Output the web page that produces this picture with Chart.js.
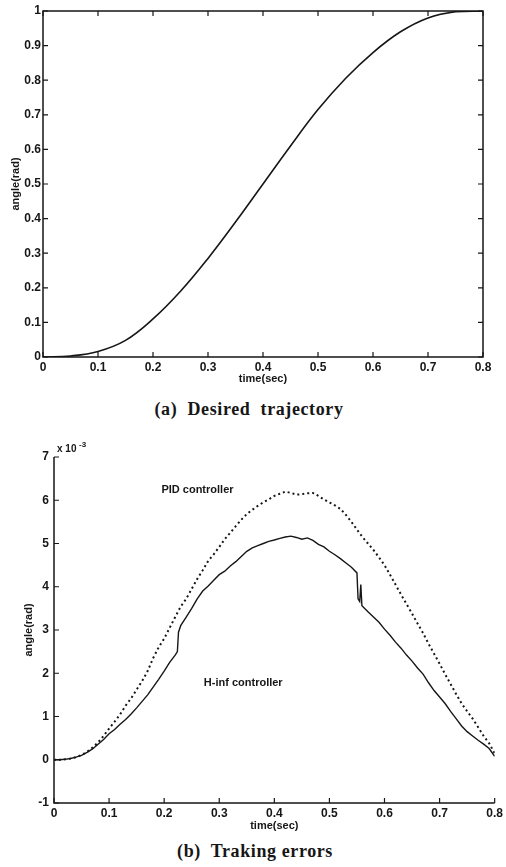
<!DOCTYPE html>
<html>
<head>
<meta charset="utf-8">
<script src="https://cdn.jsdelivr.net/npm/chart.js@4.4.1/dist/chart.umd.min.js"></script>
<style>
  body { margin: 0; background: #fff; width: 506px; height: 867px; position: relative; overflow: hidden; }
  #wrapA { position: absolute; left: 0; top: 0; width: 506px; height: 395px; }
  #wrapB { position: absolute; left: 0; top: 420px; width: 506px; height: 420px; }
  .caption { position: absolute; font-family: 'Liberation Serif', 'DejaVu Serif', serif; font-size: 18px; font-weight: bold; letter-spacing: 0.6px; color: #161616; white-space: nowrap; transform: translateX(-50%); line-height: 22px; }
</style>
</head>
<body>
<div id="wrapA"><canvas id="chartA"></canvas></div>
<div class="caption" style="left:249px; top:398px">(a)&nbsp; Desired&nbsp; trajectory</div>
<div id="wrapB"><canvas id="chartB"></canvas></div>
<div class="caption" style="left:255px; top:840px">(b)&nbsp; Traking errors</div>
<script>
// (a) desired trajectory, angle in rad
const trajTime  = [0, 0.05, 0.1, 0.15, 0.2, 0.25, 0.3, 0.35, 0.4, 0.45, 0.5, 0.55, 0.6, 0.65, 0.7, 0.75, 0.8];
const trajAngle = [0, 0.003, 0.016, 0.048, 0.11, 0.19, 0.285, 0.39, 0.5, 0.61, 0.715, 0.805, 0.88, 0.94, 0.98, 0.998, 1.0];

// (b) tracking errors, in units of 1e-3 rad
const pidTime = [0, 0.01, 0.02, 0.03, 0.04, 0.05, 0.06, 0.07, 0.08, 0.09,
  0.1, 0.11, 0.12, 0.13, 0.14, 0.15, 0.16, 0.17, 0.18, 0.19,
  0.2, 0.21, 0.22, 0.23, 0.24, 0.25, 0.26, 0.27, 0.28, 0.29,
  0.3, 0.31, 0.32, 0.33, 0.34, 0.35, 0.36, 0.37, 0.38, 0.39,
  0.4, 0.41, 0.42, 0.43, 0.44, 0.45, 0.46, 0.47, 0.48, 0.49,
  0.5, 0.51, 0.52, 0.53, 0.54, 0.55, 0.56, 0.57, 0.58, 0.59,
  0.6, 0.61, 0.62, 0.63, 0.64, 0.65, 0.66, 0.67, 0.68, 0.69,
  0.7, 0.71, 0.72, 0.73, 0.74, 0.75, 0.76, 0.77, 0.78, 0.79, 0.8];
const pidErr = [0, 0, 0.01, 0.03, 0.06, 0.11, 0.18, 0.28, 0.4, 0.55,
  0.72, 0.88, 1.05, 1.25, 1.42, 1.62, 1.82, 2.05, 2.35, 2.6,
  2.8, 3.05, 3.3, 3.54, 3.72, 3.95, 4.18, 4.38, 4.6, 4.75,
  4.92, 5.1, 5.25, 5.4, 5.55, 5.68, 5.78, 5.87, 5.95, 6.02,
  6.1, 6.15, 6.2, 6.17, 6.13, 6.14, 6.16, 6.17, 6.1, 6.02,
  5.95, 5.88, 5.8, 5.66, 5.5, 5.32, 5.15, 5.0, 4.85, 4.68,
  4.5, 4.28, 4.05, 3.82, 3.6, 3.38, 3.15, 2.93, 2.68, 2.45,
  2.22, 1.98, 1.75, 1.52, 1.3, 1.12, 0.95, 0.75, 0.55, 0.38, 0.15];

const hinfTime = [0, 0.01, 0.02, 0.03, 0.04, 0.05, 0.06, 0.07, 0.08, 0.09,
  0.1, 0.11, 0.12, 0.13, 0.14, 0.15, 0.16, 0.17, 0.18, 0.19,
  0.2, 0.21, 0.22, 0.224, 0.226, 0.23, 0.24, 0.25, 0.26, 0.27, 0.28, 0.29,
  0.3, 0.31, 0.32, 0.33, 0.34, 0.35, 0.36, 0.37, 0.38, 0.39,
  0.4, 0.41, 0.42, 0.43, 0.44, 0.45, 0.46, 0.47, 0.48, 0.49,
  0.5, 0.51, 0.52, 0.53, 0.54, 0.55, 0.552, 0.555, 0.557, 0.559, 0.57, 0.58, 0.59,
  0.6, 0.61, 0.62, 0.63, 0.64, 0.65, 0.66, 0.67, 0.68, 0.69,
  0.7, 0.71, 0.72, 0.73, 0.74, 0.75, 0.76, 0.77, 0.78, 0.79, 0.8];
const hinfErr = [0, 0, 0.01, 0.03, 0.06, 0.1, 0.17, 0.25, 0.36, 0.47,
  0.6, 0.7, 0.82, 0.93, 1.06, 1.2, 1.35, 1.5, 1.68, 1.86,
  2.05, 2.25, 2.42, 2.5, 2.95, 3.1, 3.3, 3.5, 3.72, 3.9, 4.02, 4.15,
  4.28, 4.36, 4.48, 4.58, 4.7, 4.82, 4.9, 4.95, 5.0, 5.05,
  5.08, 5.12, 5.15, 5.17, 5.14, 5.1, 5.13, 5.07, 4.98, 4.92,
  4.82, 4.74, 4.65, 4.55, 4.45, 4.32, 3.72, 3.66, 4.05, 3.56, 3.42, 3.3, 3.18,
  3.02, 2.88, 2.72, 2.58, 2.42, 2.28, 2.12, 1.98, 1.78, 1.6,
  1.45, 1.3, 1.12, 0.95, 0.78, 0.65, 0.55, 0.45, 0.36, 0.26, 0.08];

const ink = '#161616';
const sans = "'Liberation Sans', Arial, Helvetica, sans-serif";
const tickFont = { family: sans, size: 12, weight: 'bold' };
const titleFont = { family: sans, size: 11, weight: 'bold' };
const fmt = v => String(Math.round(v * 10) / 10);

// MATLAB style frame with inward ticks
const framePlugin = {
  id: 'frame',
  afterDraw(chart, args, opts) {
    const { ctx, chartArea: a, scales: { x, y } } = chart;
    ctx.save();
    ctx.strokeStyle = ink;
    ctx.lineWidth = 1.5;
    ctx.beginPath();
    if (opts.box) {
      ctx.rect(a.left, a.top, a.right - a.left, a.bottom - a.top);
    } else {
      ctx.moveTo(a.left, a.top);
      ctx.lineTo(a.left, a.bottom);
      ctx.lineTo(a.right, a.bottom);
    }
    ctx.stroke();
    ctx.lineWidth = 1.2;
    ctx.beginPath();
    const len = 5;
    x.ticks.forEach(t => {
      const px = x.getPixelForValue(t.value);
      ctx.moveTo(px, a.bottom); ctx.lineTo(px, a.bottom - len);
      if (opts.box) { ctx.moveTo(px, a.top); ctx.lineTo(px, a.top + len); }
    });
    y.ticks.forEach(t => {
      const py = y.getPixelForValue(t.value);
      ctx.moveTo(a.left, py); ctx.lineTo(a.left + len, py);
      if (opts.box) { ctx.moveTo(a.right, py); ctx.lineTo(a.right - len, py); }
    });
    ctx.stroke();
    ctx.restore();
  }
};

// exponent and curve labels for (b)
const notesPlugin = {
  id: 'notes',
  afterDraw(chart) {
    const { ctx, chartArea: a, scales: { x, y } } = chart;
    ctx.save();
    ctx.fillStyle = ink;
    ctx.textBaseline = 'alphabetic';
    ctx.font = 'bold 10px ' + sans;
    ctx.fillText('x 10', a.left + 3, a.top - 5);
    ctx.font = 'bold 8px ' + sans;
    ctx.fillText('-3', a.left + 25, a.top - 10);
    ctx.font = 'bold 11px ' + sans;
    ctx.textBaseline = 'middle';
    ctx.fillText('PID controller', x.getPixelForValue(0.195), y.getPixelForValue(6.24));
    ctx.fillText('H-inf controller', x.getPixelForValue(0.272), y.getPixelForValue(1.78));
    ctx.restore();
  }
};

function axes(xMax, yMin, yMax, yStep, yWidth, xHeight, yPad, xTitlePad, yTitlePad) {
  return {
    x: {
      type: 'linear', min: 0, max: xMax,
      grid: { display: false, drawTicks: false }, border: { display: false },
      ticks: { stepSize: 0.1, padding: 3, color: ink, font: tickFont, callback: fmt, maxRotation: 0 },
      title: { display: true, text: 'time(sec)', color: ink, font: titleFont, padding: { top: 0, bottom: xTitlePad } },
      afterFit: s => { s.height = xHeight; }
    },
    y: {
      type: 'linear', min: yMin, max: yMax,
      grid: { display: false, drawTicks: false }, border: { display: false },
      ticks: { stepSize: yStep, padding: yPad, color: ink, font: tickFont, callback: fmt },
      title: { display: true, text: 'angle(rad)', color: ink, font: titleFont, padding: { top: yTitlePad, bottom: 0 } },
      afterFit: s => { s.width = yWidth; }
    }
  };
}

const base = {
  responsive: true,
  maintainAspectRatio: false,
  animation: false,
  events: [],
  plugins: { legend: { display: false }, tooltip: { enabled: false } }
};

new Chart(document.getElementById('chartA'), {
  type: 'line',
  data: {
    datasets: [{
      data: trajTime.map((t, i) => ({ x: t, y: trajAngle[i] })),
      borderColor: ink, borderWidth: 1.6, pointRadius: 0,
      tension: 0.4
    }]
  },
  options: {
    ...base,
    layout: { padding: { top: 11, right: 23, left: 0, bottom: 0 } },
    scales: axes(0.8, 0, 1, 0.1, 43, 38, 2, 9.6, 9.6),
    plugins: { ...base.plugins, frame: { box: true } }
  },
  plugins: [framePlugin]
});

new Chart(document.getElementById('chartB'), {
  type: 'line',
  data: {
    datasets: [
      {
        label: 'PID controller',
        data: pidTime.map((t, i) => ({ x: t, y: pidErr[i] })),
        borderColor: ink, borderWidth: 2, borderDash: [2, 3], pointRadius: 0, tension: 0
      },
      {
        label: 'H-inf controller',
        data: hinfTime.map((t, i) => ({ x: t, y: hinfErr[i] })),
        borderColor: ink, borderWidth: 1.4, pointRadius: 0, tension: 0
      }
    ]
  },
  options: {
    ...base,
    layout: { padding: { top: 37, right: 10, left: 0, bottom: 0 } },
    scales: axes(0.8, -1, 7, 1, 54, 37, 5, 7.6, 22.6),
    plugins: { ...base.plugins, frame: { box: false } }
  },
  plugins: [framePlugin, notesPlugin]
});
</script>
</body>
</html>
